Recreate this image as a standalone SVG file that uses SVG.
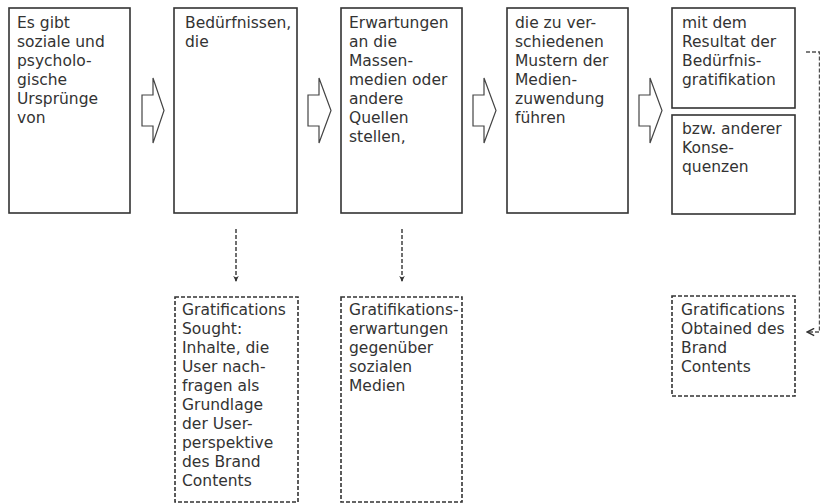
<svg xmlns="http://www.w3.org/2000/svg" width="820" height="504" viewBox="0 0 820 504">
<style>
.box{fill:#fff;stroke:#333;stroke-width:1.6}
.dbox{fill:#fff;stroke:#333;stroke-width:1.6;stroke-dasharray:4 2}
.blk{fill:#fff;stroke:#444;stroke-width:1.2}
.t{font-family:"DejaVu Sans",Verdana,sans-serif;font-size:15.5px;fill:#333}
.dl{fill:none;stroke:#333;stroke-width:1.4;stroke-dasharray:4 2}
</style>
<defs>
<marker id="ah" viewBox="0 0 10 10" refX="9" refY="5" markerWidth="7" markerHeight="7" orient="auto-start-reverse" markerUnits="userSpaceOnUse">
<path d="M0,1 L9,5 L0,9 L3,5 Z" fill="#333"/>
</marker>
<marker id="ao" viewBox="0 0 10 10" refX="9" refY="5" markerWidth="9" markerHeight="9" orient="auto" markerUnits="userSpaceOnUse">
<path d="M1,1 L9,5 L1,9" fill="none" stroke="#333" stroke-width="1.6"/>
</marker>
</defs>
<rect width="820" height="504" fill="#fff"/>
<g id="connectors">
<path class="blk" d="M142,95 H153 V78 L164,110.5 L153,143 V126 H142 Z"/>
<path class="blk" d="M308,95 H319 V78 L331,110.5 L319,143 V126 H308 Z"/>
<path class="blk" d="M473,95 H484 V78 L496,110.5 L484,143 V126 H473 Z"/>
<path class="blk" d="M639,95 H650 V78 L662,110.5 L650,143 V126 H639 Z"/>
<path class="dl" d="M236,229 V282" marker-end="url(#ah)"/>
<path class="dl" d="M402,229 V282" marker-end="url(#ah)"/>
<path class="dl" d="M806,52 H819.5 V332 H807" marker-end="url(#ao)" stroke-opacity="0.85"/>
</g>
<g id="n1">
<rect class="box" x="9" y="8" width="121" height="205"/>
<text class="t" x="17" y="28">Es gibt</text>
<text class="t" x="17" y="47">soziale und</text>
<text class="t" x="17" y="66">psycholo-</text>
<text class="t" x="17" y="85">gische</text>
<text class="t" x="17" y="104">Ursprünge</text>
<text class="t" x="17" y="123">von</text>
</g>
<g id="n2">
<rect class="box" x="174" y="8" width="123" height="205"/>
<text class="t" x="185" y="28">Bedürfnissen,</text>
<text class="t" x="185" y="47">die</text>
</g>
<g id="n3">
<rect class="box" x="341" y="8" width="121" height="205"/>
<text class="t" x="349" y="28">Erwartungen</text>
<text class="t" x="349" y="47">an die</text>
<text class="t" x="349" y="66">Massen-</text>
<text class="t" x="349" y="85">medien oder</text>
<text class="t" x="349" y="104">andere</text>
<text class="t" x="349" y="123">Quellen</text>
<text class="t" x="349" y="142">stellen,</text>
</g>
<g id="n4">
<rect class="box" x="507" y="8" width="121" height="205"/>
<text class="t" x="515" y="28">die zu ver-</text>
<text class="t" x="515" y="47">schiedenen</text>
<text class="t" x="515" y="66">Mustern der</text>
<text class="t" x="515" y="85">Medien-</text>
<text class="t" x="515" y="104">zuwendung</text>
<text class="t" x="515" y="123">führen</text>
</g>
<g id="n5a">
<rect class="box" x="672" y="8" width="123" height="100"/>
<text class="t" x="682" y="28">mit dem</text>
<text class="t" x="682" y="47">Resultat der</text>
<text class="t" x="682" y="66">Bedürfnis-</text>
<text class="t" x="682" y="85">gratifikation</text>
</g>
<g id="n5b">
<rect class="box" x="672" y="115" width="123" height="99"/>
<text class="t" x="682" y="134">bzw. anderer</text>
<text class="t" x="682" y="153">Konse-</text>
<text class="t" x="682" y="172">quenzen</text>
</g>
<g id="gs">
<rect class="dbox" x="175" y="297" width="123" height="205"/>
<text class="t" x="182" y="315">Gratifications</text>
<text class="t" x="182" y="334">Sought:</text>
<text class="t" x="182" y="353">Inhalte, die</text>
<text class="t" x="182" y="372">User nach-</text>
<text class="t" x="182" y="391">fragen als</text>
<text class="t" x="182" y="410">Grundlage</text>
<text class="t" x="182" y="429">der User-</text>
<text class="t" x="182" y="448">perspektive</text>
<text class="t" x="182" y="467">des Brand</text>
<text class="t" x="182" y="486">Contents</text>
</g>
<g id="ge">
<rect class="dbox" x="341" y="297" width="121" height="205"/>
<text class="t" x="349" y="315">Gratifikations-</text>
<text class="t" x="349" y="334">erwartungen</text>
<text class="t" x="349" y="353">gegenüber</text>
<text class="t" x="349" y="372">sozialen</text>
<text class="t" x="349" y="391">Medien</text>
</g>
<g id="go">
<rect class="dbox" x="672" y="296" width="123" height="100"/>
<text class="t" x="681" y="315">Gratifications</text>
<text class="t" x="681" y="334">Obtained des</text>
<text class="t" x="681" y="353">Brand</text>
<text class="t" x="681" y="372">Contents</text>
</g>
</svg>
